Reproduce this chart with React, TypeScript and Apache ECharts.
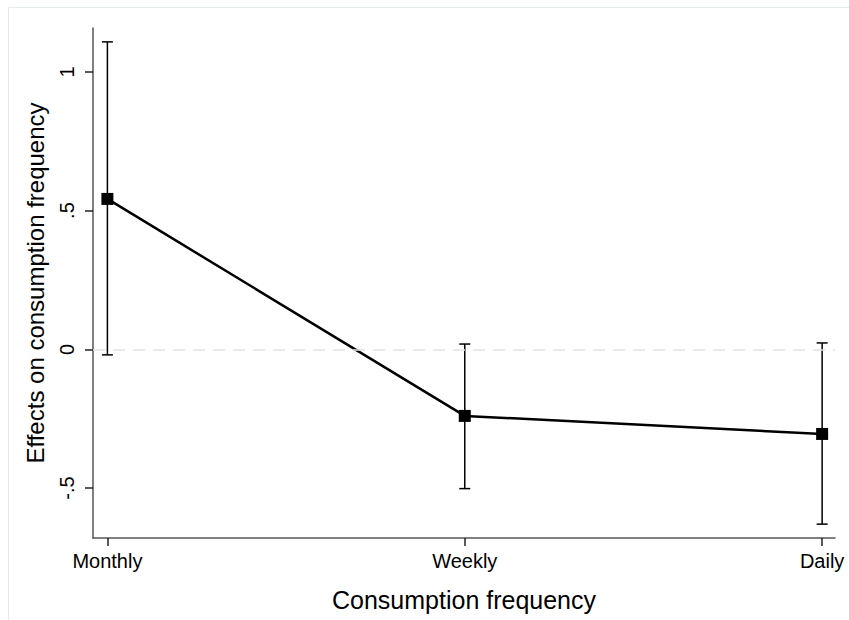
import React, { useEffect, useRef } from "react";
import * as echarts from "echarts";

const categories = ["Monthly", "Weekly", "Daily"];
const estimates = [0.542, -0.24, -0.305];
const lowerCI = [-0.02, -0.502, -0.63];
const upperCI = [1.108, 0.019, 0.023];
const yTicks = [-0.5, 0, 0.5, 1];
const yTickLabels = ["-.5", "0", ".5", "1"];

const X_MIN = -0.0403;
const X_MAX = 2.036;
const Y_MIN = -0.68;
const Y_MAX = 1.158;

const FONT = "'Liberation Sans', Arial, Helvetica, sans-serif";

export default function App() {
  const ref = useRef<HTMLDivElement>(null);
  useEffect(() => {
    if (!ref.current) return;
    const chart = echarts.init(ref.current, undefined, { renderer: "svg" });
    const xIdx = categories.map((_, i) => i);
    const option: any = {
      animation: false,
      backgroundColor: "#ffffff",
      textStyle: { fontFamily: FONT },
      graphic: [
        {
          type: "rect",
          shape: { x: 8.5, y: 7.5, width: 860, height: 640 },
          style: { fill: "none", stroke: "#e4ecee", lineWidth: 1 },
          silent: true,
          z: -10,
        },
      ],
      grid: { left: 93, right: 14, top: 28, bottom: 82 },
      xAxis: {
        type: "value",
        min: X_MIN,
        max: X_MAX,
        splitLine: { show: false },
        axisLine: { show: true, onZero: false, lineStyle: { color: "#555", width: 1.5 } },
        axisTick: {
          show: true,
          length: 8,
          customValues: xIdx,
          lineStyle: { color: "#222", width: 1.5 },
        },
        axisLabel: {
          customValues: xIdx,
          formatter: (v: number) => categories[Math.round(v)] ?? "",
          color: "#000",
          fontSize: 20,
          fontFamily: FONT,
          margin: 13,
        },
        name: "Consumption frequency",
        nameLocation: "middle",
        nameGap: 49,
        nameTextStyle: { color: "#000", fontSize: 25, fontFamily: FONT },
      },
      yAxis: {
        type: "value",
        min: Y_MIN,
        max: Y_MAX,
        splitLine: { show: false },
        axisLine: { show: true, onZero: false, lineStyle: { color: "#555", width: 1.5 } },
        axisTick: {
          show: true,
          length: 8,
          customValues: yTicks,
          lineStyle: { color: "#222", width: 1.5 },
        },
        axisLabel: {
          customValues: yTicks,
          formatter: (v: number) => {
            const i = yTicks.findIndex((t) => Math.abs(t - v) < 1e-9);
            return i >= 0 ? yTickLabels[i] : "";
          },
          rotate: 90,
          color: "#000",
          fontSize: 20,
          fontFamily: FONT,
          margin: 16,
        },
        name: "Effects on consumption frequency",
        nameLocation: "middle",
        nameRotate: 90,
        nameGap: 46,
        nameTextStyle: { color: "#000", fontSize: 24, fontFamily: FONT },
      },
      series: [
        {
          type: "line",
          data: [],
          z: 1,
          silent: true,
          markLine: {
            silent: true,
            symbol: ["none", "none"],
            label: { show: false },
            lineStyle: { color: "#e2e2e2", type: [12, 8], width: 1.5 },
            data: [{ yAxis: 0 }],
          },
        },
        {
          type: "custom",
          z: 3,
          data: xIdx.map((i) => [i, lowerCI[i], upperCI[i]]),
          renderItem: (params: any, api: any) => {
            const x = api.value(0);
            const lo = api.coord([x, api.value(1)]);
            const hi = api.coord([x, api.value(2)]);
            const hw = 5.5;
            const style = { stroke: "#000", lineWidth: 1.5, fill: "none" };
            return {
              type: "group",
              children: [
                { type: "line", shape: { x1: lo[0], y1: lo[1], x2: hi[0], y2: hi[1] }, style },
                { type: "line", shape: { x1: hi[0] - hw, y1: hi[1], x2: hi[0] + hw, y2: hi[1] }, style },
                { type: "line", shape: { x1: lo[0] - hw, y1: lo[1], x2: lo[0] + hw, y2: lo[1] }, style },
              ],
            };
          },
        },
        {
          type: "line",
          z: 4,
          data: xIdx.map((i) => [i, estimates[i]]),
          symbol: "rect",
          symbolSize: 12,
          showSymbol: true,
          lineStyle: { color: "#000", width: 2.5 },
          itemStyle: { color: "#000" },
        },
      ],
    };
    chart.setOption(option);
    return () => chart.dispose();
  }, []);
  return (
    <div
      ref={ref}
      style={{ position: "fixed", left: 0, top: 0, width: 849, height: 620 }}
    />
  );
}
